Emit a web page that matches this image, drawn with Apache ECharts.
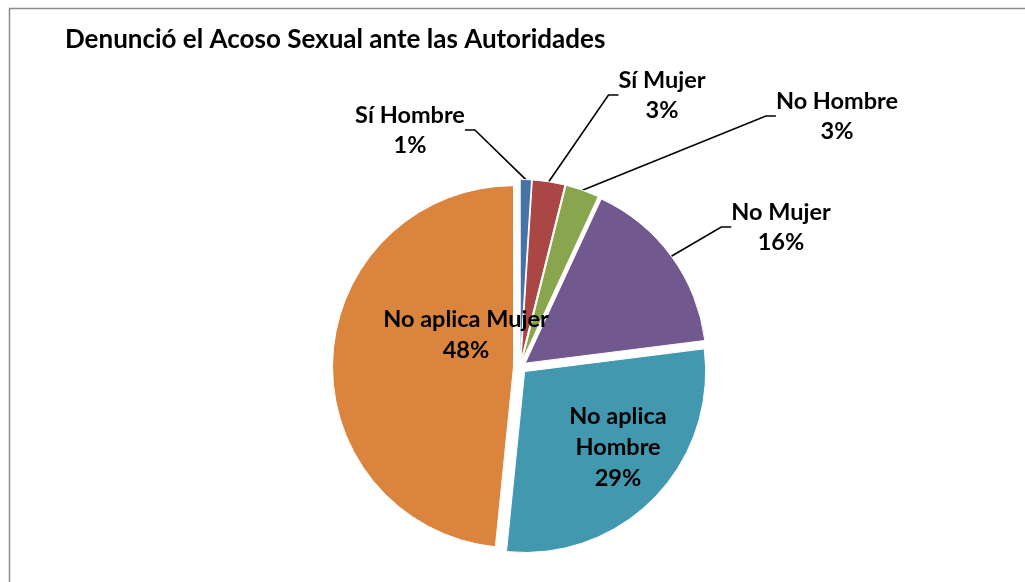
<!DOCTYPE html>
<html>
<head>
<meta charset="utf-8">
<script src="https://cdn.jsdelivr.net/npm/echarts@6/dist/echarts.min.js"></script>
<style>
html, body { margin: 0; padding: 0; background: #fff; }
#main { width: 1025px; height: 582px; }
</style>
</head>
<body>
<div id="main"></div>
<script>
var titulo = 'Denunció el Acoso Sexual ante las Autoridades';
var categorias = ['Sí Hombre', 'Sí Mujer', 'No Hombre', 'No Mujer', 'No aplica Hombre', 'No aplica Mujer'];
var valores = [1.0, 2.9, 3.0, 16.1, 28.6, 48.4];
var colores = ['#4572A7', '#AA4643', '#89A54E', '#71588F', '#4198AF', '#DB843D'];

// centro de cada etiqueta, como en el original
var posEtiquetas = [[410, 130], [662, 95], [837, 116], [781, 227], [618, 447], [466, 335]];
var dentro = [false, false, false, false, true, true];

var fuente = 'Lato';
var centro = [520, 367];
var separacion = 6.5; // explosion de cada porcion

var myChart = echarts.init(document.getElementById('main'));

var total = 0;
valores.forEach(function (v) { total += v; });

// una serie por porcion, para poder separarlas como en Excel
var series = [];
var acum = 0;
valores.forEach(function (v, i) {
    var medio = (acum + v / 2) / total * 2 * Math.PI;
    acum += v;
    var datos = categorias.map(function (c, j) {
        var visible = j === i;
        return {
            name: c,
            value: valores[j],
            itemStyle: visible
                ? { color: colores[j], borderColor: '#fff', borderWidth: 1 }
                : { color: 'rgba(0,0,0,0)', borderWidth: 0 },
            label: {
                show: visible,
                position: dentro[j] ? 'inside' : 'outside',
                lineHeight: dentro[j] ? 31 : 30
            },
            labelLine: { show: visible && !dentro[j] }
        };
    });
    series.push({
        type: 'pie',
        center: [centro[0] + separacion * Math.sin(medio), centro[1] - separacion * Math.cos(medio)],
        radius: 181,
        startAngle: 90,
        clockwise: true,
        avoidLabelOverlap: false,
        emphasis: { disabled: true },
        label: {
            fontFamily: fuente,
            fontSize: 23.5,
            fontWeight: 'bold',
            color: '#000',
            align: 'center',
            formatter: function (p) {
                var n = p.name === 'No aplica Hombre' ? 'No aplica\nHombre' : p.name;
                return n + '\n' + Math.round(p.percent) + '%';
            }
        },
        labelLine: {
            length: 20,
            length2: 10,
            lineStyle: { color: '#000', width: 1.6 }
        },
        labelLayout: function (params) {
            var p = posEtiquetas[params.dataIndex];
            return { x: p[0], y: p[1], align: 'center', verticalAlign: 'middle' };
        },
        data: datos
    });
});

myChart.setOption({
    animation: false,
    title: {
        text: titulo,
        left: 60,
        top: 22,
        textStyle: { fontFamily: fuente, fontSize: 26, fontWeight: 'bold', color: '#000' }
    },
    graphic: [{
        type: 'rect',
        z: -1,
        shape: { x: 9.5, y: 8.5, width: 1100, height: 700 },
        style: { fill: 'none', stroke: '#8c8c8c', lineWidth: 1.5 }
    }],
    series: series
});
</script>
</body>
</html>
